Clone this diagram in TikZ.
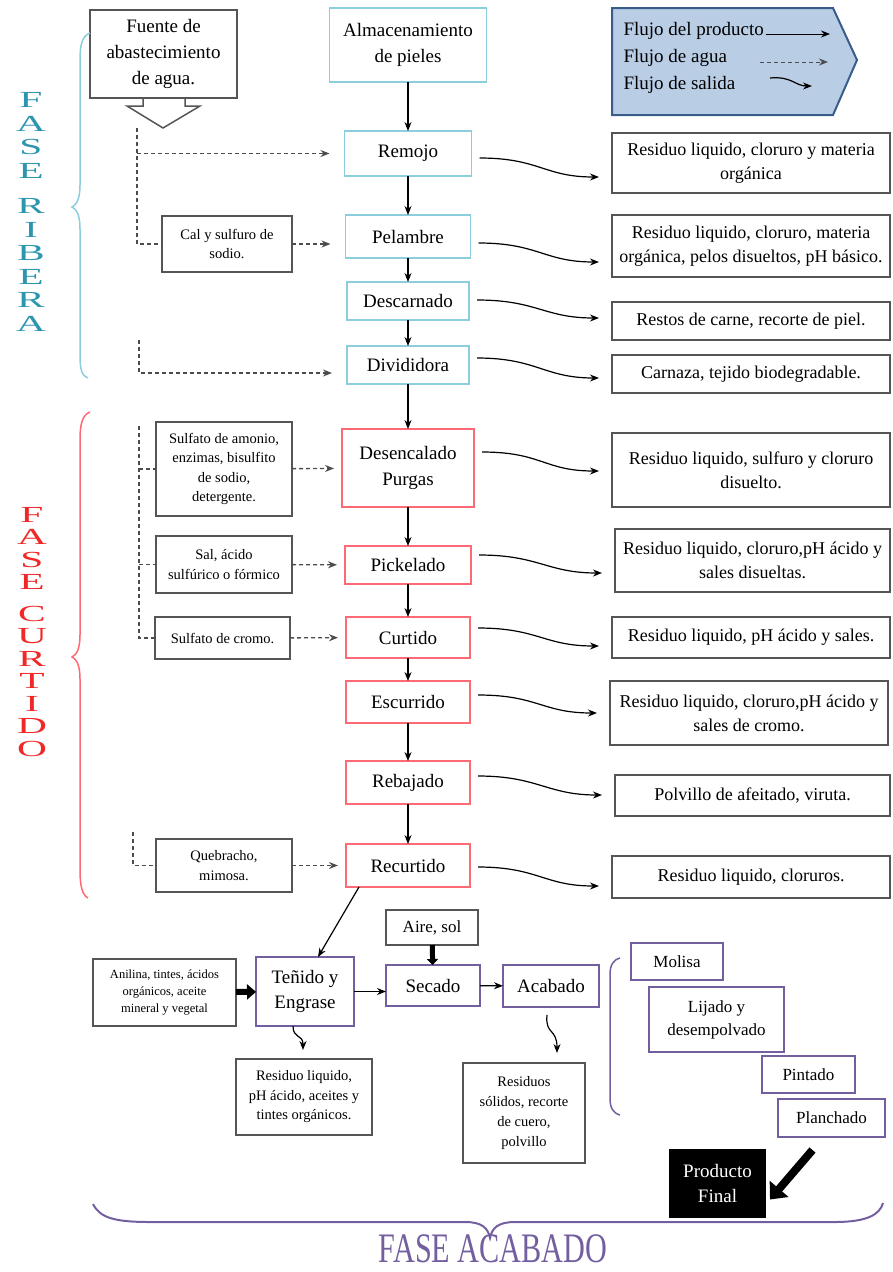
\documentclass[tikz,border=0pt]{standalone}
\usepackage{fontspec}
\setmainfont{Liberation Serif}
\newfontfamily\letraancha[FakeStretch=1.8]{Liberation Serif}
\newfontfamily\letraestrecha[FakeStretch=0.72]{Liberation Serif}
\usetikzlibrary{arrows,arrows.meta,positioning}

\definecolor{azulribera}{RGB}{140,205,222}
\definecolor{rojocurtido}{RGB}{255,105,115}
\definecolor{moradoacab}{RGB}{115,95,160}
\definecolor{textoribera}{RGB}{45,150,175}
\definecolor{textocurtido}{RGB}{240,40,40}
\definecolor{leyendafondo}{RGB}{185,205,229}
\definecolor{leyendaborde}{RGB}{56,93,138}
\definecolor{gris}{RGB}{85,85,85}

\tikzset{
  caja/.style={draw, line width=1.6pt, align=center, inner sep=2pt, outer sep=0pt, font=\fontsize{19}{26}\selectfont},
  rib/.style={caja, draw=azulribera},
  curt/.style={caja, draw=rojocurtido},
  acab/.style={caja, draw=moradoacab, line width=1.8pt},
  residuo/.style={caja, draw=gris, line width=1.5pt, anchor=east, minimum width=278pt, font=\fontsize{18}{24}\selectfont},
  insumo/.style={caja, draw=gris, line width=1.5pt, font=\fontsize{14.5}{19.5}\selectfont},
  producto/.style={->, line width=1.2pt},
  agua/.style={black!70, line width=1.4pt, dash pattern=on 4pt off 3pt},
  salida/.style={->, line width=1.2pt},
  gruesa/.style={line width=6pt, -{Triangle[length=9pt,width=15pt]}}
}

\begin{document}
\begin{tikzpicture}[x=1pt,y=-1pt,>={Stealth[length=9pt,width=7pt]}]
  \useasboundingbox (0,0) rectangle (892,1272);

  \node[rib, minimum width=157pt, minimum height=74pt] (alm) at (408,45) {Almacenamiento\\de pieles};
  \node[rib, minimum width=127pt, minimum height=45pt] (remojo) [below=49pt of alm] {Remojo};
  \node[rib, minimum width=125pt, minimum height=43pt] (pelambre) [below=39pt of remojo] {Pelambre};
  \node[rib, minimum width=122pt, minimum height=38pt] (descarnado) [below=24pt of pelambre] {Descarnado};
  \node[rib, minimum width=122pt, minimum height=38pt] (divididora) [below=26pt of descarnado] {Divididora};
  \node[curt, minimum width=132pt, minimum height=78pt] (desencalado) [below=45pt of divididora] {Desencalado\\Purgas};
  \node[curt, minimum width=126pt, minimum height=38pt] (pickelado) [below=39pt of desencalado] {Pickelado};
  \node[curt, minimum width=124pt, minimum height=41pt] (curtido) [below=33pt of pickelado] {Curtido};
  \node[curt, minimum width=124pt, minimum height=42pt] (escurrido) [below=23pt of curtido] {Escurrido};
  \node[curt, minimum width=124pt, minimum height=43pt] (rebajado) [below=38pt of escurrido] {Rebajado};
  \node[curt, minimum width=124pt, minimum height=43pt] (recurtido) [below=40pt of rebajado] {Recurtido};

  \path[producto] (alm) edge (remojo)
        (remojo) edge (pelambre)
        (pelambre) edge (descarnado)
        (descarnado) edge (divididora)
        (divididora) edge (desencalado)
        (desencalado) edge (pickelado)
        (pickelado) edge (curtido)
        (curtido) edge (escurrido)
        (escurrido) edge (rebajado)
        (rebajado) edge (recurtido);

  \node[residuo, minimum height=60pt] (res1) at (890,163) {Residuo liquido, cloruro y materia\\orgánica};
  \node[residuo, minimum height=62pt] (res2) at (890,246) {Residuo liquido, cloruro, materia\\orgánica, pelos disueltos, pH básico.};
  \node[residuo, minimum height=38pt] (res3) at (890,321) {Restos de carne, recorte de piel.};
  \node[residuo, minimum height=38pt] (res4) at (890,374) {Carnaza, tejido biodegradable.};
  \node[residuo, minimum height=74pt] (res5) at (890,470) {Residuo liquido, sulfuro y cloruro\\disuelto.};
  \node[residuo, minimum height=63pt, minimum width=275pt] (res6) at (890,560.5) {Residuo liquido, cloruro,pH ácido y\\sales disueltas.};
  \node[residuo, minimum height=41pt] (res7) at (890,637.5) {Residuo liquido, pH ácido y sales.};
  \node[residuo, minimum height=64pt] (res8) at (888,713) {Residuo liquido, cloruro,pH ácido y\\sales de cromo.};
  \node[residuo, minimum height=41pt, minimum width=275pt] (res9) at (890,795.5) {Polvillo de afeitado, viruta.};
  \node[residuo, minimum height=42pt] (res10) at (890,877) {Residuo liquido, cloruros.};

  \foreach \a/\s/\b/\e in {remojo/-4.5/res1/-14, pelambre/-6.5/res2/-16, descarnado/1/res3/3,
      divididora/7/res4/-4, desencalado/16/res5/-1, pickelado/10/res6/-12.5, curtido/9.5/res7/-8.5,
      escurrido/7/res8/0, rebajado/6.5/res9/0.5, recurtido/-1.5/res10/-9}
    \draw[salida] ([xshift=8pt,yshift=\s pt]\a.east) .. controls +(60,0) and +(-55,0) .. ([xshift=-13pt,yshift=\e pt]\b.west);

  \node[insumo, minimum width=147pt, minimum height=88pt, font=\fontsize{19}{26}\selectfont] (fuente) at (163.5,54) {Fuente de\\abastecimiento\\de agua.};
  \node[insumo, minimum width=130pt, minimum height=56pt] (cal) at (227,244) {Cal y sulfuro de\\sodio.};
  \node[insumo, minimum width=136pt, minimum height=94pt] (sulfato) at (224,469) {Sulfato de amonio,\\enzimas, bisulfito\\de sodio,\\detergente.};
  \node[insumo, minimum width=136pt, minimum height=57pt] (sal) at (224,564.5) {Sal, ácido\\sulfúrico o fórmico};
  \node[insumo, minimum width=135pt, minimum height=42pt] (cromo) at (222.5,638) {Sulfato de cromo.};
  \node[insumo, minimum width=136pt, minimum height=53pt] (quebracho) at (224,865.5) {Quebracho,\\mimosa.};

  \draw[gris, line width=1.5pt] (143,98) -- (143,106) -- (127,106) -- (163,128) -- (200,106) -- (185,106) -- (185,98);

  \coordinate (a1) at (137,128);
  \coordinate (a2) at (139,340);
  \coordinate (a3) at (139,426);
  \coordinate (a4) at (133,832);
  \draw[agua] (a1) |- (cal.west);
  \draw[agua,->,shorten >=15pt] (a1 |- remojo.west) -- (remojo.west);
  \draw[agua,->,shorten >=15pt] (cal.east) -- (cal.east -| pelambre.west);
  \draw[agua,->,shorten >=15pt] (a2) |- ([yshift=-8pt]divididora.west);
  \draw[agua] (a3) |- (cromo.west);
  \draw[agua] (a3 |- sulfato.west) -- (sulfato.west);
  \draw[agua] (a3 |- sal.west) -- (sal.west);
  \draw[agua,->,shorten >=8pt] (sulfato) -- (desencalado);
  \draw[agua,->,shorten >=8pt] (sal) -- (pickelado);
  \draw[agua,->,shorten >=8pt] (cromo) -- (curtido);
  \draw[agua] (a4) |- (quebracho.west);
  \draw[agua,->,shorten >=8pt] (quebracho) -- (recurtido);

  \draw[azulribera, line width=1.5pt] (90,33) .. controls (82,36) and (80,45) .. (80,60) -- (80,185)
    .. controls (80,200) and (76,205) .. (72,207) .. controls (76,209) and (80,214) .. (80,229)
    -- (80,355) .. controls (80,370) and (82,376) .. (88,378);
  \draw[rojocurtido, line width=1.5pt] (90,412) .. controls (82,415) and (80,425) .. (80,440) -- (80,635)
    .. controls (80,650) and (76,655) .. (72,657) .. controls (76,659) and (80,664) .. (80,679)
    -- (80,870) .. controls (80,885) and (82,895) .. (88,898);
  \node[textoribera, align=center, font=\letraancha\fontsize{23}{23.5}\selectfont] (fase1) at (31,212) {F\\A\\S\\E\\[12pt]R\\I\\B\\E\\R\\A};
  \node[textocurtido, align=center, font=\letraancha\fontsize{23}{22.5}\selectfont] (fase2) at (32,632) {F\\A\\S\\E\\[9pt]C\\U\\R\\T\\I\\D\\O};

  \draw[leyendaborde, fill=leyendafondo, line width=2pt] (612,8) -- (833,8) -- (857,60) -- (833,115) -- (612,115) -- cycle;
  \node[anchor=west, align=left, font=\fontsize{19}{27}\selectfont] (leyenda) at (620,58) {Flujo del producto\\Flujo de agua\\Flujo de salida};
  \coordinate (lp1) at (766,34);
  \coordinate (lp2) at (830,34);
  \coordinate (la1) at (760,62);
  \coordinate (la2) at (828,62);
  \coordinate (ls1) at (770,78);
  \coordinate (ls2) at (812,86);
  \draw[producto, line width=1pt] (lp1) -- (lp2);
  \draw[agua, ->, line width=1pt] (la1) -- (la2);
  \draw[salida] (ls1) .. controls (792,76) and (795,86) .. (ls2);

  \node[insumo, minimum width=143pt, minimum height=67pt, font=\fontsize{12.5}{17}\selectfont] (anilina) at (164.5,992.5) {Anilina, tintes, ácidos\\orgánicos, aceite\\mineral y vegetal};
  \node[acab, minimum width=98pt, minimum height=69pt, font=\fontsize{19}{25}\selectfont] (tenido) at (305,991.5) {Teñido y\\Engrase};
  \node[insumo, minimum width=92pt, minimum height=35pt, font=\fontsize{17}{22}\selectfont] (aire) at (432,927.5) {Aire, sol};
  \node[acab, minimum width=94pt, minimum height=41pt] (secado) at (433,985.5) {Secado};
  \node[acab, minimum width=96pt, minimum height=42pt] (acabado) at (551,986) {Acabado};
  \node[insumo, minimum width=136pt, minimum height=76pt] (resliq) at (304,1097) {Residuo liquido,\\pH ácido, aceites y\\tintes orgánicos.};
  \node[insumo, minimum width=122pt, minimum height=100pt, font=\fontsize{14.5}{20}\selectfont] (ressol) at (524,1113) {Residuos\\sólidos, recorte\\de cuero,\\polvillo};
  \node[acab, minimum width=92pt, minimum height=37pt, font=\fontsize{17}{22}\selectfont] (molisa) at (677,961.5) {Molisa};
  \node[acab, minimum width=135pt, minimum height=65pt, font=\fontsize{17}{23}\selectfont] (lijado) at (716.5,1019.5) {Lijado y\\desempolvado};
  \node[acab, minimum width=93pt, minimum height=37pt, font=\fontsize{17}{22}\selectfont] (pintado) at (808.5,1074.5) {Pintado};
  \node[acab, minimum width=107pt, minimum height=38pt, font=\fontsize{17}{22}\selectfont] (planchado) at (831.5,1118) {Planchado};
  \node[caja, fill=black, text=white, minimum width=95pt, minimum height=67pt, font=\fontsize{19}{25}\selectfont] (final) at (717.5,1183.5) {Producto\\Final};

  \draw[producto] ([xshift=13pt]recurtido.south west) -- ([xshift=62pt]tenido.north west);
  \draw[gruesa] (anilina) -- (tenido);
  \draw[gruesa, line width=5pt, -{Triangle[length=6pt,width=11pt]}] (aire) -- (secado);
  \draw[producto] (tenido.east) -- (tenido.east -| secado.west);
  \draw[producto] (secado) -- (acabado);
  \draw[salida] ([xshift=-12pt]tenido.south) .. controls +(0,13) and +(0,-16) .. ([xshift=-2pt,yshift=-24pt]tenido.south);
  \draw[salida] ([xshift=-4pt,yshift=-8pt]acabado.south) .. controls +(-2,20) and +(0,-25) .. ([xshift=6pt,yshift=-46pt]acabado.south);
  \draw[gruesa, line width=8pt, -{Triangle[length=14pt,width=24pt]}] ([shift={(-19pt,-13pt)}]planchado.south) -- ([shift={(5pt,-16pt)}]final.east);

  \draw[moradoacab, line width=1.5pt] (620,958) .. controls (613,960) and (610,965) .. (610,975) -- (610,1098)
    .. controls (610,1108) and (613,1113) .. (620,1115);
  \draw[moradoacab, line width=2pt] (93,1204) .. controls (100,1218) and (115,1222) .. (150,1222) -- (465,1222)
    .. controls (482,1222) and (488,1228) .. (490,1238) .. controls (492,1228) and (498,1222) .. (515,1222)
    -- (835,1222) .. controls (868,1222) and (880,1214) .. (883,1203);
  \node[moradoacab, font=\letraestrecha\fontsize{42}{42}\selectfont] (fase3) at (493,1249) {FASE ACABADO};
\end{tikzpicture}
\end{document}
